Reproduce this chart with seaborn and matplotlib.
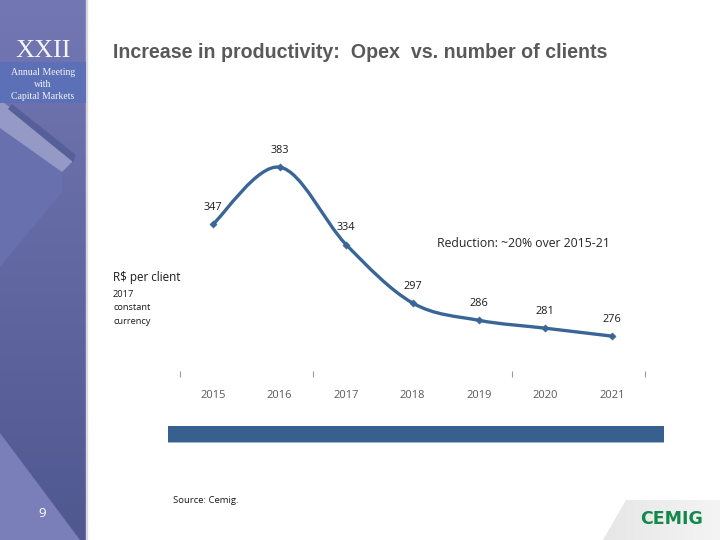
import numpy as np
import pandas as pd
import matplotlib
matplotlib.use("Agg")
import matplotlib.pyplot as plt
import seaborn as sns
from matplotlib.path import Path
from matplotlib.patches import PathPatch, Polygon, Rectangle

# ---- data ----
years = ["2015", "2016", "2017", "2018", "2019", "2020", "2021"]
opex_per_client = [347, 383, 334, 297, 286, 281, 276]
group_boundaries = [-0.5, 1.5, 4.5, 6.5]

title = "Increase in productivity:  Opex  vs. number of clients"
note = "Reduction: ~20% over 2015-21"

sns.set_theme(style="white")
plt.rcParams['font.family'] = ['Open Sans', 'DejaVu Sans']

fig = plt.figure(figsize=(7.2, 5.4), dpi=100)
fig.patch.set_facecolor("white")

# ---- decoration layer in pixel coordinates ----
bg = fig.add_axes([0, 0, 1, 1], zorder=0)
bg.set_xlim(0, 720)
bg.set_ylim(540, 0)
bg.axis("off")

# sidebar gradient
grad = np.linspace(0, 1, 256).reshape(-1, 1)
top = np.array([0x73, 0x77, 0xB3]) / 255
bot = np.array([0x50, 0x58, 0x90]) / 255
img = top[None, None, :] * (1 - grad[:, :, None]) + bot[None, None, :] * grad[:, :, None]
bg.imshow(img, extent=(0, 86, 540, 0), aspect="auto", zorder=1)
bg.add_patch(Rectangle((86, 0), 1.2, 540, color="#D8D8DE", zorder=2))

# decorative shapes
bg.add_patch(Polygon([(0, 128), (62, 172), (62, 192), (0, 267)], closed=True,
                     color="#6870AE", zorder=2, lw=0))
bg.add_patch(Polygon([(0, 100), (72, 152), (72, 162), (62, 172), (0, 128)], closed=True,
                     color="#9499C6", zorder=2, lw=0))
bg.add_patch(Polygon([(12, 104), (76, 155), (73, 162), (8, 109)], closed=True,
                     color="#565F98", zorder=2, lw=0))
bg.add_patch(Polygon([(0, 433), (0, 540), (80, 540)], closed=True,
                     color="#7B7FB9", zorder=2, lw=0))

# XXII box
bg.add_patch(Rectangle((0, 62), 86, 41, color="#5B70B6", zorder=3, lw=0))
bg.text(43, 57, "XXII", ha="center", va="baseline", color="#F4F4F8",
        fontsize=19, family="Liberation Serif", zorder=4)
for i, t in enumerate(["Annual Meeting", "with", "Capital Markets"]):
    bg.text(43, 75 + i * 12, t, ha="center", va="baseline", color="#F4F4F8",
            fontsize=7, family="Liberation Serif", zorder=4)
bg.text(42, 517, "9", ha="center", va="baseline", color="white", fontsize=9.5, zorder=4)

# title
bg.text(113, 58, title, ha="left", va="baseline", color="#595959",
        fontsize=14.1, fontweight="bold", family="Liberation Sans", zorder=4)

# side labels
bg.text(113, 281, "R$ per client", ha="left", va="baseline", color="#1A1A1A",
        fontsize=8.4, zorder=4)
for i, t in enumerate(["2017", "constant", "currency"]):
    bg.text(113, 297 + i * 13.5, t, ha="left", va="baseline", color="#1A1A1A",
            fontsize=6.7, zorder=4)

bg.text(437, 247, note, ha="left", va="baseline", color="#262626",
        fontsize=8.8, zorder=4)

# blue bar
bg.add_patch(Rectangle((168, 426), 496, 17, color="#37608F", zorder=3, lw=0))
bg.add_patch(Rectangle((168, 442), 496, 1.2, color="#9FB3CF", zorder=3, lw=0))

bg.text(173, 503, "Source: Cemig.", ha="left", va="baseline", color="#1A1A1A",
        fontsize=6.8, zorder=4)

# logo area
lg = np.linspace(0, 1, 256).reshape(1, -1)
lc1 = np.array([0xE6, 0xE6, 0xE6]) / 255
lc2 = np.array([0xF4, 0xF4, 0xF4]) / 255
limg = lc1[None, None, :] * (1 - lg[:, :, None]) + lc2[None, None, :] * lg[:, :, None]
im = bg.imshow(limg, extent=(600, 720, 540, 500), aspect="auto", zorder=2)
clip = Polygon([(603, 540), (626, 500), (720, 500), (720, 540)], closed=True,
               transform=bg.transData)
im.set_clip_path(clip)
bg.text(672, 524, "CEMIG", ha="center", va="baseline", color="#12884A",
        fontsize=12.5, fontweight="bold", family="DejaVu Sans", zorder=4)

# ---- chart ----
ax = fig.add_axes([0.25, (540 - 374) / 540, 465 / 720, 233.7 / 540], zorder=5)
ax.patch.set_alpha(0)
df = pd.DataFrame({"x": np.arange(len(years)), "value": opex_per_client})

line_color = "#3A6597"
# smoothed line (Catmull-Rom Bezier through data points)
xs = df["x"].to_numpy(dtype=float)
ys = df["value"].to_numpy(dtype=float)
P = np.column_stack([xs, ys])
verts = [tuple(P[0])]
codes = [Path.MOVETO]
n = len(P)
for i in range(n - 1):
    p0 = P[i - 1] if i > 0 else P[i]
    p1 = P[i]
    p2 = P[i + 1]
    p3 = P[i + 2] if i + 2 < n else P[i + 1]
    c1 = p1 + (p2 - p0) / 6
    c2 = p2 - (p3 - p1) / 6
    verts += [tuple(c1), tuple(c2), tuple(p2)]
    codes += [Path.CURVE4] * 3
ax.add_patch(PathPatch(Path(verts, codes), facecolor="none", edgecolor=line_color,
                       lw=2.4, capstyle="butt", zorder=3))

sns.scatterplot(data=df, x="x", y="value", ax=ax, marker="D", s=14,
                color=line_color, edgecolor=line_color, zorder=4, legend=False)

for xi, v in zip(xs, opex_per_client):
    ax.annotate(str(v), (xi, v), xytext=(0, 8), textcoords="offset points",
                ha="center", va="bottom", fontsize=7.8, color="#1A1A1A")

ax.set_xlim(-0.5, 6.5)
ax.set_ylim(252, 400)
ax.set_xticks(range(len(years)))
ax.set_xticklabels(years)
ax.set_xticks(group_boundaries, minor=True)
ax.tick_params(axis="x", which="major", length=0, pad=11.5, labelsize=8,
               labelcolor="#595959")
ax.tick_params(axis="x", which="minor", length=4, width=0.8, color="#9A9A9A",
               direction="inout", bottom=True)
ax.set_yticks([])
ax.set_xlabel("")
ax.set_ylabel("")
for s in ax.spines.values():
    s.set_visible(False)

fig.savefig("out.png", dpi=100)
